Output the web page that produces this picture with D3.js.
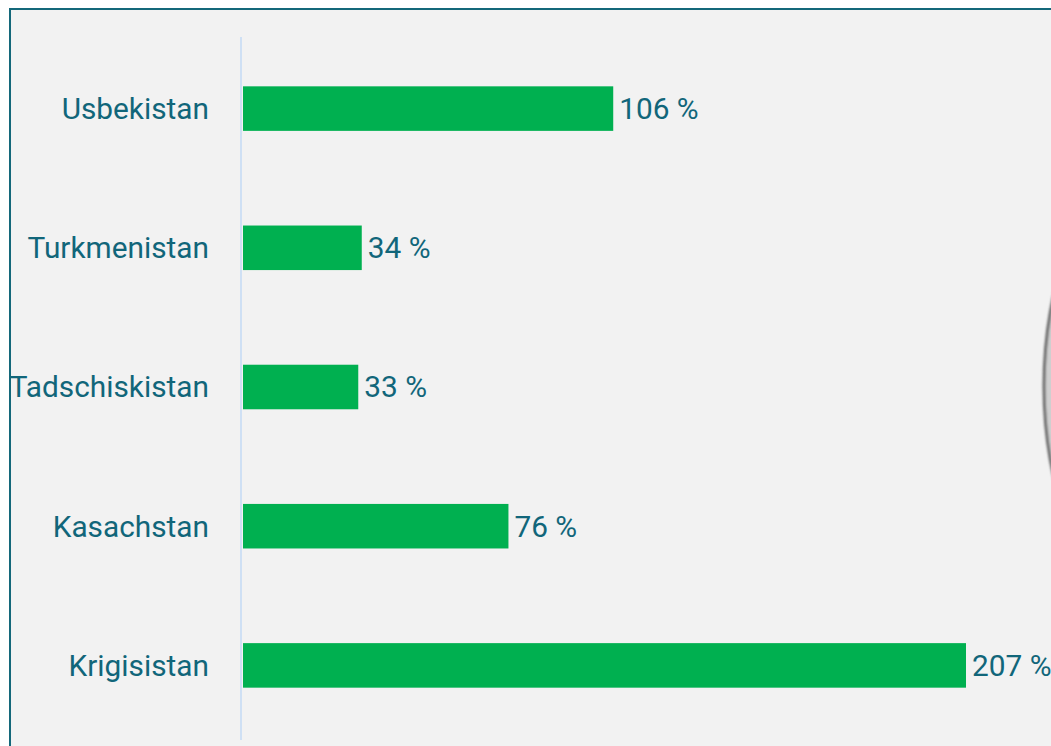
<!DOCTYPE html>
<html>
<head>
<meta charset="utf-8">
<script src="https://cdn.jsdelivr.net/npm/d3@7"></script>
<style>
  body { margin: 0; background: #ffffff; }
  svg { display: block; }
</style>
</head>
<body>
<div id="chart"></div>
<script>
// --- data ---
var countries = ["Usbekistan", "Turkmenistan", "Tadschiskistan", "Kasachstan", "Krigisistan"];
var values = [106, 34, 33, 76, 207];

var W = 1051, H = 746;
var textColor = "#11667a";

var svg = d3.select("#chart").append("svg")
  .attr("width", W)
  .attr("height", H);

// panel with dark teal frame (runs off the right / bottom edge)
svg.append("rect")
  .attr("x", 10).attr("y", 9)
  .attr("width", W + 20).attr("height", H + 20)
  .attr("fill", "#f2f2f2")
  .attr("stroke", "#14687a")
  .attr("stroke-width", 2);

// grey shape peeking in at right edge
var defs = svg.append("defs");
defs.append("filter").attr("id", "blur")
  .append("feGaussianBlur").attr("stdDeviation", 1.3);
svg.append("ellipse")
  .attr("cx", 1134).attr("cy", 386)
  .attr("rx", 90).attr("ry", 200)
  .attr("fill", "#cfcfcf")
  .attr("stroke", "#6a6a6a")
  .attr("stroke-width", 3)
  .attr("filter", "url(#blur)");

var x0 = 243;
var y = d3.scaleBand()
  .domain(countries)
  .range([39, 735])
  .paddingInner(0.68)
  .paddingOuter(0.34);

var x = d3.scaleLinear().domain([0, 207]).range([x0, 966]);

// axis line
svg.append("line")
  .attr("x1", 241).attr("x2", 241)
  .attr("y1", 37).attr("y2", 740)
  .attr("stroke", "#cfe0f4")
  .attr("stroke-width", 2);

// bars
svg.selectAll(".bar")
  .data(values)
  .enter()
  .append("rect")
  .attr("class", "bar")
  .attr("x", x0)
  .attr("y", function (d, i) { return y(countries[i]); })
  .attr("width", function (d) { return x(d) - x0; })
  .attr("height", y.bandwidth())
  .attr("fill", "#00b050");

// category labels
svg.selectAll(".cat")
  .data(countries)
  .enter()
  .append("text")
  .attr("class", "cat")
  .attr("x", 209)
  .attr("y", function (d) { return y(d) + y.bandwidth() / 2; })
  .attr("dy", "0.35em")
  .attr("text-anchor", "end")
  .attr("font-family", "Roboto, sans-serif")
  .attr("font-size", "29.8px")
  .attr("fill", textColor)
  .text(function (d) { return d; });

// value labels
svg.selectAll(".val")
  .data(values)
  .enter()
  .append("text")
  .attr("class", "val")
  .attr("x", function (d) { return x(d) + 6; })
  .attr("y", function (d, i) { return y(countries[i]) + y.bandwidth() / 2; })
  .attr("dy", "0.35em")
  .attr("font-family", "Roboto, sans-serif")
  .attr("font-size", "29.8px")
  .attr("fill", textColor)
  .text(function (d) { return d + " %"; });
</script>
</body>
</html>
